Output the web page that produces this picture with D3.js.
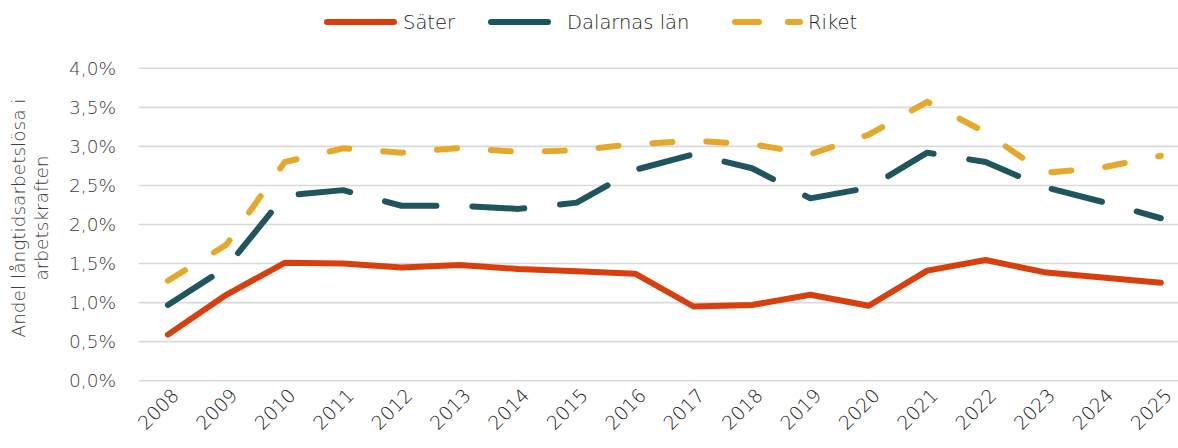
<!DOCTYPE html>
<html>
<head>
<meta charset="utf-8">
<script src="https://cdn.jsdelivr.net/npm/d3@7"></script>
<style>
  body { margin: 0; background: #fff; }
  svg text { font-family: "DejaVu Sans", sans-serif; font-weight: 200; }
</style>
</head>
<body>
<div id="chart"></div>
<script>
// data
var years = ["2008","2009","2010","2011","2012","2013","2014","2015","2016",
             "2017","2018","2019","2020","2021","2022","2023","2024","2025"];
var sater   = [0.59, 1.10, 1.51, 1.50, 1.45, 1.48, 1.43, 1.40, 1.37,
               0.95, 0.97, 1.10, 0.96, 1.41, 1.545, 1.39, 1.32, 1.255];
var dalarna = [0.97, 1.45, 2.37, 2.44, 2.24, 2.24, 2.20, 2.28, 2.70,
               2.90, 2.72, 2.335, 2.47, 2.92, 2.80, 2.48, 2.29, 2.08];
var riket   = [1.28, 1.74, 2.80, 2.975, 2.92, 2.98, 2.93, 2.95, 3.03,
               3.07, 3.03, 2.90, 3.15, 3.57, 3.18, 2.66, 2.73, 2.88];
var yTicks  = [0, 0.5, 1, 1.5, 2, 2.5, 3, 3.5, 4];

var series = [
  { name: "Säter",        values: sater,   color: "#d7400e", dash: null },
  { name: "Dalarnas län", values: dalarna, color: "#1f565e", dash: "52,36" },
  { name: "Riket",        values: riket,   color: "#e6a82a", dash: "20,34" }
];

var width = 1178, height = 448;

var svg = d3.select("#chart").append("svg")
    .attr("width", width)
    .attr("height", height);

var x = d3.scalePoint()
    .domain(years)
    .range([138.7, 1190])
    .padding(0.5);

var y = d3.scaleLinear()
    .domain([0, 4])
    .range([380.7, 68.3]);

var fmt = function(d) { return d.toFixed(1).replace(".", ",") + "%"; };

// gridlines
svg.append("g")
    .attr("class", "grid")
  .selectAll("line")
    .data(yTicks)
  .enter().append("line")
    .attr("x1", 138.7)
    .attr("x2", width)
    .attr("y1", function(d) { return y(d); })
    .attr("y2", function(d) { return y(d); })
    .attr("stroke", "#d9d9d9")
    .attr("stroke-width", 1.6);

// y axis labels
var yAxis = d3.axisLeft(y).tickValues(yTicks).tickFormat(fmt).tickSize(0).tickPadding(0);
var yg = svg.append("g")
    .attr("transform", "translate(116,0)")
    .call(yAxis);
yg.select(".domain").remove();
yg.selectAll("text")
    .attr("font-size", 18.5)
    .attr("fill", "#404040")
    .style("font-family", "DejaVu Sans, sans-serif");

// x axis labels, rotated
var xAxis = d3.axisBottom(x).tickSize(0).tickPadding(0);
var xg = svg.append("g")
    .attr("transform", "translate(0,392)")
    .call(xAxis);
xg.select(".domain").remove();
xg.selectAll("text")
    .attr("font-size", 19)
    .attr("fill", "#1a1a1a")
    .attr("text-anchor", "end")
    .attr("dy", "0.35em")
    .style("font-family", "DejaVu Sans, sans-serif")
    .attr("transform", "translate(7,0) rotate(-45)");

// y axis title
var title = svg.append("text")
    .attr("transform", "translate(25,218) rotate(-90)")
    .attr("text-anchor", "middle")
    .attr("font-size", 18.5)
    .attr("fill", "#404040");
title.append("tspan").attr("x", 0).attr("dy", 0).text("Andel långtidsarbetslösa i");
title.append("tspan").attr("x", 0).attr("dy", 23).text("arbetskraften");

// lines
var line = d3.line()
    .x(function(d, i) { return x(years[i]); })
    .y(function(d) { return y(d); });

svg.append("g").selectAll("path")
    .data(series)
  .enter().append("path")
    .attr("d", function(s) { return line(s.values); })
    .attr("fill", "none")
    .attr("stroke", function(s) { return s.color; })
    .attr("stroke-width", 6)
    .attr("stroke-linecap", "round")
    .attr("stroke-linejoin", "round")
    .attr("stroke-dasharray", function(s) { return s.dash; });

// legend
var legendItems = [
  { s: series[0], x1: 327, x2: 394, tx: 403, dash: null },
  { s: series[1], x1: 491, x2: 548, tx: 567, dash: null },
  { s: series[2], x1: 735, x2: 800, tx: 808, dash: "24,29" }
];
var legend = svg.append("g").attr("class", "legend");
legendItems.forEach(function(it) {
  legend.append("line")
      .attr("x1", it.x1).attr("x2", it.x2)
      .attr("y1", 22).attr("y2", 22)
      .attr("stroke", it.s.color)
      .attr("stroke-width", 6)
      .attr("stroke-linecap", "round")
      .attr("stroke-dasharray", it.dash);
  legend.append("text")
      .attr("x", it.tx)
      .attr("y", 22)
      .attr("dy", "0.36em")
      .attr("font-size", 19.5)
      .attr("fill", "#1a1a1a")
      .text(it.s.name);
});
</script>
</body>
</html>
